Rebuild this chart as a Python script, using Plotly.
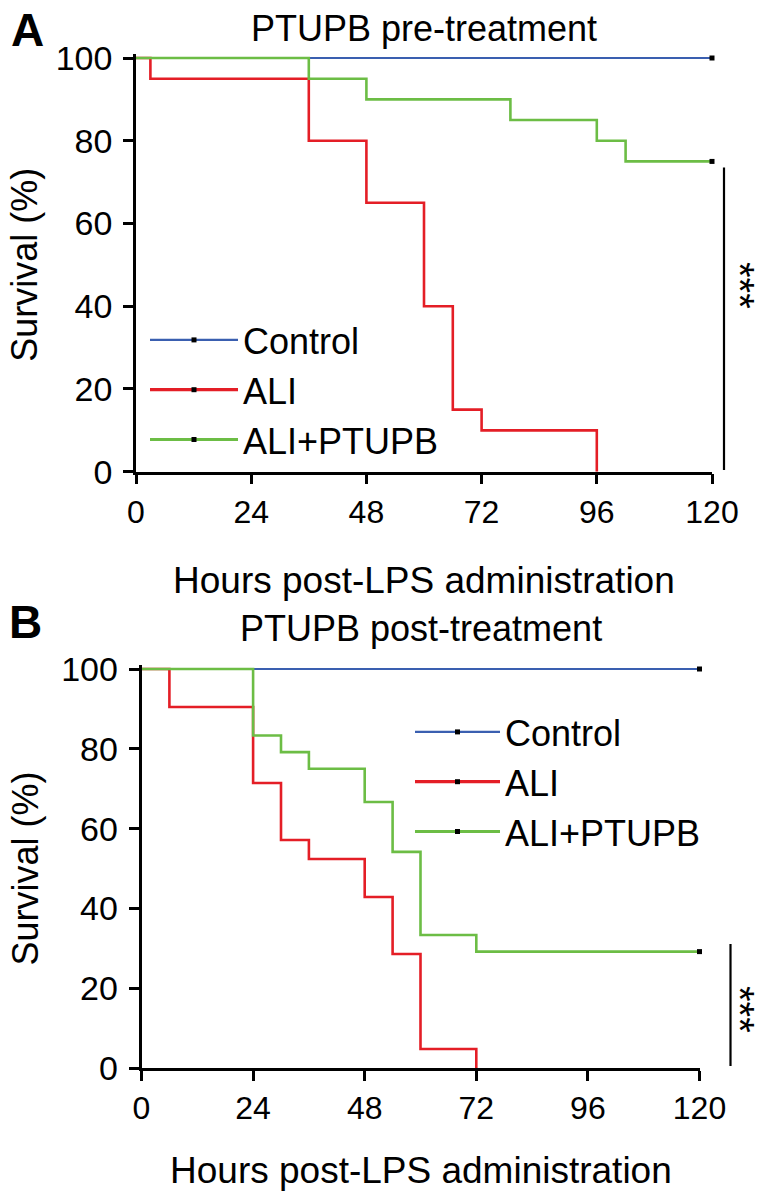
import plotly.graph_objects as go

# ---------------- data ----------------
series_names = ["Control", "ALI", "ALI+PTUPB"]
series_colors = ["#3a5fb0", "#e41e26", "#6cbd45"]
x_ticks = [0, 24, 48, 72, 96, 120]
y_ticks = [0, 20, 40, 60, 80, 100]

# Panel A: PTUPB pre-treatment (event times in hours, survival % after event)
a_control_t = [0, 120]
a_control_s = [100, 100]
a_ali_t = [0, 3, 36, 48, 60, 66, 72, 96]
a_ali_s = [100, 95, 80, 65, 40, 15, 10, 0]
a_ptupb_t = [0, 36, 48, 78, 96, 102, 120]
a_ptupb_s = [100, 95, 90, 85, 80, 75, 75]
a_censor_t = [120, 120]
a_censor_s = [100, 75]

# Panel B: PTUPB post-treatment
b_control_t = [0, 120]
b_control_s = [100, 100]
b_ali_t = [0, 6, 24, 30, 36, 48, 54, 60, 72]
b_ali_s = [100, 90.48, 71.43, 57.14, 52.38, 42.86, 28.57, 4.76, 0]
b_ptupb_t = [0, 24, 30, 36, 48, 54, 60, 72, 120]
b_ptupb_s = [100, 83.33, 79.17, 75, 66.67, 54.17, 33.33, 29.17, 29.17]
b_censor_t = [120, 120]
b_censor_s = [100, 29.17]

FONT = "Liberation Sans, Arial, sans-serif"
W, H = 766, 1197


def px(x):
    return x / W


def py(y):
    return 1 - y / H


fig = go.Figure()

panels = [
    ("x", "y", "legend",
     [(a_control_t, a_control_s), (a_ali_t, a_ali_s), (a_ptupb_t, a_ptupb_s)],
     (a_censor_t, a_censor_s)),
    ("x2", "y2", "legend2",
     [(b_control_t, b_control_s), (b_ali_t, b_ali_s), (b_ptupb_t, b_ptupb_s)],
     (b_censor_t, b_censor_s)),
]

line_widths = [1.8, 2.6, 2.6]

for xa, ya, leg, curves, censor in panels:
    for (t, s), name, col, lw in zip(curves, series_names, series_colors, line_widths):
        fig.add_trace(go.Scatter(
            x=t, y=s, mode="lines", line=dict(color=col, width=lw, shape="hv"),
            xaxis=xa, yaxis=ya, showlegend=False, hoverinfo="skip"))
    # censor marks
    fig.add_trace(go.Scatter(
        x=censor[0], y=censor[1], mode="markers",
        marker=dict(symbol="square", size=5, color="black"),
        xaxis=xa, yaxis=ya, showlegend=False, cliponaxis=False, hoverinfo="skip"))
    # legend entries
    for name, col, lw in zip(series_names, series_colors, line_widths):
        fig.add_trace(go.Scatter(
            x=[None], y=[None], mode="lines+markers", name=name,
            line=dict(color=col, width=lw + 0.6),
            marker=dict(symbol="square", size=5, color="black"),
            xaxis=xa, yaxis=ya, legend=leg, showlegend=True))

axis_common = dict(
    showline=True, linecolor="black", linewidth=2.5,
    ticks="outside", ticklen=10, tickwidth=2.5, tickcolor="black",
    showgrid=False, zeroline=False, automargin=False,
)

# pixel geometry of plot areas
A_x0, A_x1, A_y100, A_y0 = 136, 712, 58, 471.7
B_x0, B_x1, B_y100, B_y0 = 141.5, 699.5, 669, 1068
pad_a = (A_y0 - A_y100) / 100.0
pad_b = (B_y0 - B_y100) / 100.0

fig.update_layout(
    width=W, height=H, autosize=False,
    margin=dict(l=0, r=0, t=0, b=0, pad=0, autoexpand=False),
    paper_bgcolor="white", plot_bgcolor="white",
    font=dict(family=FONT, color="black"),
    xaxis=dict(domain=[px(A_x0), px(A_x1)], range=[0, 120], tickvals=x_ticks,
               tickfont=dict(size=32, family=FONT), ticklabelstandoff=0,
               anchor="y", **axis_common),
    yaxis=dict(domain=[py(A_y0), py(A_y100 - pad_a)], range=[0, 101], tickvals=y_ticks,
               tickfont=dict(size=34, family=FONT), ticklabelstandoff=4,
               anchor="x", **axis_common),
    xaxis2=dict(domain=[px(B_x0), px(B_x1)], range=[0, 120], tickvals=x_ticks,
                tickfont=dict(size=32, family=FONT), ticklabelstandoff=0,
                anchor="y2", **axis_common),
    yaxis2=dict(domain=[py(B_y0), py(B_y100 - pad_b)], range=[0, 101], tickvals=y_ticks,
                tickfont=dict(size=34, family=FONT), ticklabelstandoff=4,
                anchor="x2", **axis_common),
    legend=dict(x=px(145), y=py(310), xanchor="left", yanchor="top",
                font=dict(size=36, family=FONT), itemwidth=88,
                bgcolor="rgba(0,0,0,0)", borderwidth=0, traceorder="normal"),
    legend2=dict(x=px(410), y=py(702), xanchor="left", yanchor="top",
                 font=dict(size=36, family=FONT), itemwidth=85,
                 bgcolor="rgba(0,0,0,0)", borderwidth=0, traceorder="normal"),
)

# text annotations
ann = []
ann.append(dict(text="<b>A</b>", x=px(27), y=py(30), font=dict(size=46)))
ann.append(dict(text="<b>B</b>", x=px(25), y=py(622), font=dict(size=46)))
ann.append(dict(text="PTUPB pre-treatment", x=px(424), y=py(28), font=dict(size=36)))
ann.append(dict(text="PTUPB post-treatment", x=px(420.5), y=py(628), font=dict(size=36)))
ann.append(dict(text="Hours post-LPS administration", x=px(424), y=py(580), font=dict(size=37)))
ann.append(dict(text="Hours post-LPS administration", x=px(420.5), y=py(1170), font=dict(size=37)))
ann.append(dict(text="Survival (%)", x=px(25), y=py((A_y0 + A_y100) / 2), textangle=-90, font=dict(size=36)))
ann.append(dict(text="Survival (%)", x=px(25), y=py((B_y0 + B_y100) / 2), textangle=-90, font=dict(size=36)))
ann.append(dict(text="***", x=px(740), y=py(285), textangle=90, font=dict(size=40)))
ann.append(dict(text="***", x=px(740), y=py(1009), textangle=90, font=dict(size=40)))
for a in ann:
    a.update(xref="paper", yref="paper", showarrow=False, xanchor="center", yanchor="middle")
    a["font"].update(family=FONT, color="black")
fig.update_layout(annotations=ann)

# significance bars
fig.add_shape(type="line", xref="paper", yref="paper",
              x0=px(724), x1=px(724), y0=py(167.6), y1=py(470),
              line=dict(color="black", width=2.2))
fig.add_shape(type="line", xref="paper", yref="paper",
              x0=px(730.5), x1=px(730.5), y0=py(944), y1=py(1066),
              line=dict(color="black", width=2.2))

fig.write_html("out.html", config={"displayModeBar": False},
               post_script="document.body.style.margin='0px';document.body.style.overflow='hidden';")
